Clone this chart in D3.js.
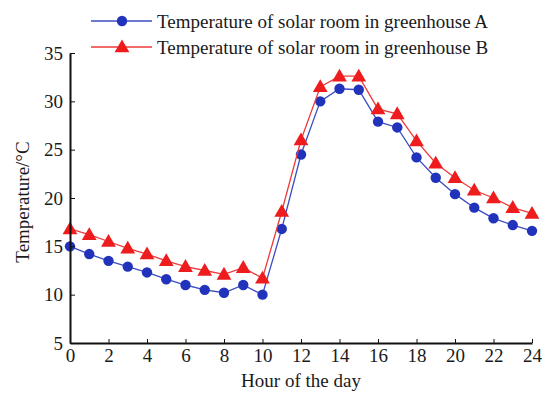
<!DOCTYPE html>
<html lang="en">
<head>
  <meta charset="UTF-8" />
  <title>Solar room temperature</title>
  <script src="https://d3js.org/d3.v7.min.js"></script>
  <style>
    body { margin: 0; background: #fff; }
    svg { display: block; font-family: "Liberation Serif", "Times New Roman", serif; }
    .axis path, .axis line { stroke: #111; }
    .axis text { font-size: 19px; fill: #1a1a1a; font-family: "Liberation Serif", serif; }
  </style>
</head>
<body>
  <div id="chart"></div>
  <script>
    const hours = d3.range(0, 25);
    const tempA = [15.0, 14.2, 13.5, 12.9, 12.3, 11.6, 11.0, 10.5, 10.2, 11.0, 10.0, 16.8,
                   24.5, 30.0, 31.3, 31.2, 27.9, 27.3, 24.2, 22.1, 20.4, 19.0, 17.9, 17.2, 16.6];
    const tempB = [16.8, 16.2, 15.5, 14.8, 14.2, 13.5, 12.9, 12.5, 12.1, 12.8, 11.7, 18.6,
                   26.0, 31.5, 32.6, 32.6, 29.2, 28.7, 25.9, 23.6, 22.1, 20.8, 20.0, 19.0, 18.4];
    const seriesNames = ['Temperature of solar room in greenhouse A', 'Temperature of solar room in greenhouse B'];
    const xTicks = d3.range(0, 25, 2);
    const yTicks = [5, 10, 15, 20, 25, 30, 35];

    const W = 546, H = 394;
    const margin = { top: 53, right: 14, bottom: 51, left: 70 };

    const svg = d3.select('#chart').append('svg')
      .attr('width', W).attr('height', H);

    const x = d3.scaleLinear().domain([0, 24]).range([margin.left, W - margin.right]);
    const y = d3.scaleLinear().domain([5, 35]).range([H - margin.bottom, margin.top]);

    const series = [
      { name: seriesNames[0], values: tempA, color: '#2233bb', line: '#3a4cc4', marker: 'circle' },
      { name: seriesNames[1], values: tempB, color: '#ee1c1c', line: '#f03a3a', marker: 'triangle' }
    ];

    const triangle = d3.symbol().type(d3.symbolTriangle).size(95);
    const circle = d3.symbol().type(d3.symbolCircle).size(85);

    const line = d3.line().x((d, i) => x(hours[i])).y(d => y(d));

    series.forEach(s => {
      svg.append('path')
        .attr('d', line(s.values))
        .attr('fill', 'none')
        .attr('stroke', s.line)
        .attr('stroke-width', 1.3);

      svg.selectAll(null)
        .data(s.values)
        .join('path')
        .attr('transform', (d, i) => `translate(${x(hours[i])},${y(d) + (s.marker === 'triangle' ? 1 : 0)})`)
        .attr('d', s.marker === 'triangle' ? triangle() : circle())
        .attr('fill', s.color);
    });

    // axes, ticks point inward
    svg.append('g')
      .attr('class', 'axis')
      .attr('transform', `translate(0,${H - margin.bottom})`)
      .call(d3.axisBottom(x).tickValues(xTicks).tickSize(-4).tickPadding(6).tickSizeOuter(0))
      .call(g => g.select('.domain').attr('stroke-width', 2));

    svg.append('g')
      .attr('class', 'axis')
      .attr('transform', `translate(${margin.left},0)`)
      .call(d3.axisLeft(y).tickValues(yTicks).tickSize(-5).tickPadding(7).tickSizeOuter(0))
      .call(g => g.select('.domain').attr('stroke-width', 2));

    // axis titles
    svg.append('text')
      .attr('x', 301)
      .attr('y', H - 7)
      .attr('text-anchor', 'middle')
      .attr('font-size', 19)
      .attr('fill', '#1a1a1a')
      .text('Hour of the day');

    svg.append('text')
      .attr('transform', `translate(29,202) rotate(-90)`)
      .attr('text-anchor', 'middle')
      .attr('font-size', 19)
      .attr('fill', '#1a1a1a')
      .text('Temperature/°C');

    // legend
    const legend = svg.append('g').attr('transform', 'translate(91,21)');
    series.forEach((s, i) => {
      const g = legend.append('g').attr('transform', `translate(0,${i * 26})`);
      g.append('line')
        .attr('x1', 0).attr('x2', 61).attr('y1', 0).attr('y2', 0)
        .attr('stroke', s.line).attr('stroke-width', 1.3);
      g.append('path')
        .attr('transform', `translate(31,${s.marker === 'triangle' ? 1 : 0})`)
        .attr('d', s.marker === 'triangle' ? triangle() : circle())
        .attr('fill', s.color);
      g.append('text')
        .attr('x', 66).attr('y', 0).attr('dy', '0.35em')
        .attr('font-size', 19)
        .attr('fill', '#1a1a1a')
        .text(s.name);
    });
  </script>
</body>
</html>
